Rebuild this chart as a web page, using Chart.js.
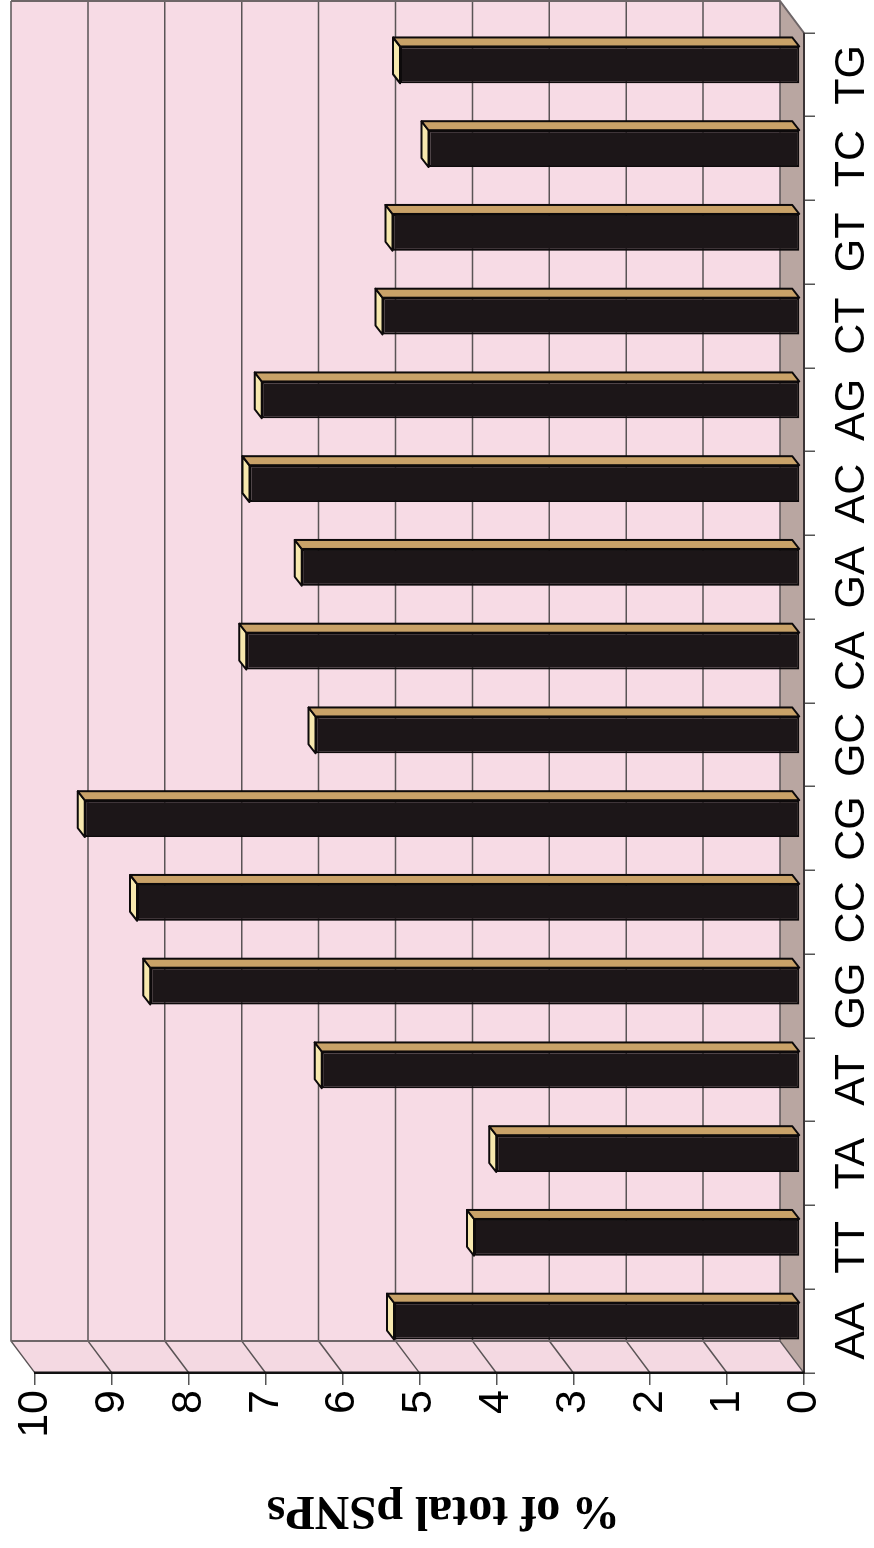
<!DOCTYPE html>
<html>
<head>
<meta charset="utf-8">
<script src="https://cdn.jsdelivr.net/npm/chart.js@4/dist/chart.umd.min.js"></script>
<style>
  html, body { margin: 0; padding: 0; background: #fff; overflow: hidden; }
  /* the chart is laid out landscape and turned a quarter turn counter-clockwise */
  #wrap {
    position: absolute; left: 0; top: 0;
    width: 1548px; height: 874px;
    transform-origin: 0 0;
    transform: translate(0, 1548px) rotate(-90deg);
  }
</style>
</head>
<body>
<div id="wrap"><canvas id="c" width="1548" height="874"></canvas></div>
<script>
// dinucleotide categories and their share of all pSNPs (%)
const categories = ['AA', 'TT', 'TA', 'AT', 'GG', 'CC', 'CG', 'GC', 'CA', 'GA', 'AC', 'AG', 'CT', 'GT', 'TC', 'TG'];
const pctOfTotal = [5.28, 4.24, 3.95, 6.22, 8.45, 8.62, 9.3, 6.3, 7.2, 6.48, 7.16, 7.0, 5.43, 5.3, 4.83, 5.2];
const valueTicks = [0, 1, 2, 3, 4, 5, 6, 7, 8, 9, 10];
const axisTitle = '% of total pSNPs';

// 3-D look: offset of the back wall, of the bar front plane, and bar depth
const WALL = { dx: 32, dy: -24 };
const BAR_FRONT = { dx: 10, dy: -4 };
const BAR_DEPTH = { dx: 9, dy: -7 };

function poly(ctx, pts, fill, stroke, lw) {
  ctx.beginPath();
  ctx.moveTo(pts[0][0], pts[0][1]);
  for (let i = 1; i < pts.length; i++) ctx.lineTo(pts[i][0], pts[i][1]);
  ctx.closePath();
  if (fill) { ctx.fillStyle = fill; ctx.fill(); }
  if (stroke) { ctx.strokeStyle = stroke; ctx.lineWidth = lw || 1; ctx.stroke(); }
}

const walls3d = {
  id: 'walls3d',
  beforeDraw(chart) {
    const { ctx, chartArea: a, scales: { y } } = chart;
    const L = a.left, R = a.right, T = a.top, B = a.bottom;
    const dx = WALL.dx, dy = WALL.dy;
    ctx.save();
    // back wall
    poly(ctx, [[L + dx, T + dy], [R + dx, T + dy], [R + dx, B + dy], [L + dx, B + dy]], '#f7dbe5');
    // side wall
    poly(ctx, [[L, T], [L + dx, T + dy], [L + dx, B + dy], [L, B]], '#f4d9e2');
    // floor
    poly(ctx, [[L, B], [R, B], [R + dx, B + dy], [L + dx, B + dy]], '#b9a6a1');
    // gridlines on side and back walls
    ctx.strokeStyle = '#5a5456';
    ctx.lineWidth = 1.5;
    valueTicks.forEach(v => {
      const py = y.getPixelForValue(v);
      ctx.beginPath();
      ctx.moveTo(L, py);
      ctx.lineTo(L + dx, py + dy);
      ctx.lineTo(R + dx, py + dy);
      ctx.stroke();
    });
    // wall edges
    ctx.strokeStyle = '#6e6668';
    ctx.lineWidth = 2;
    ctx.beginPath();
    ctx.moveTo(L + dx, B + dy); ctx.lineTo(L + dx, T + dy);
    ctx.moveTo(R + dx, T + dy); ctx.lineTo(R + dx, B + dy); ctx.lineTo(R, B);
    ctx.stroke();
    ctx.restore();
  },
  beforeDatasetsDraw(chart) {
    chart.ctx.save();
    chart.ctx.translate(BAR_FRONT.dx, BAR_FRONT.dy);
  },
  afterDatasetsDraw(chart) {
    const ctx = chart.ctx;
    const dx = BAR_DEPTH.dx, dy = BAR_DEPTH.dy;
    chart.getDatasetMeta(0).data.forEach(bar => {
      const { x, y, base, width } = bar.getProps(['x', 'y', 'base', 'width'], true);
      const l = x - width / 2, r = x + width / 2;
      ctx.lineJoin = 'round';
      // end cap
      poly(ctx, [[l, y], [r, y], [r + dx, y + dy], [l + dx, y + dy]], '#f7e8ae', '#0d0a0b', 2);
      // side face
      poly(ctx, [[r, y], [r + dx, y + dy], [r + dx, base + dy], [r, base]], '#c9a268', '#0d0a0b', 2);
    });
    ctx.restore();
  },
  afterDraw(chart) {
    // value-axis title, centred on the whole 3-D plot block
    const { ctx, chartArea: a } = chart;
    const cy = (a.top + a.bottom + WALL.dy) / 2 + 36;
    ctx.save();
    ctx.translate(51, cy);
    ctx.rotate(-Math.PI / 2);
    ctx.font = 'bold 48px "Liberation Serif", "Times New Roman", serif';
    ctx.fillStyle = '#000';
    ctx.textAlign = 'center';
    ctx.textBaseline = 'alphabetic';
    ctx.fillText(axisTitle, 0, 0);
    ctx.restore();
  }
};

new Chart(document.getElementById('c'), {
  type: 'bar',
  data: {
    labels: categories,
    datasets: [{
      data: pctOfTotal,
      backgroundColor: '#1c1618',
      borderColor: '#0d0a0b',
      borderWidth: 2,
      borderSkipped: false,
      barPercentage: 0.44,
      categoryPercentage: 1,
      clip: false
    }]
  },
  options: {
    responsive: false,
    animation: false,
    devicePixelRatio: 1,
    layout: { padding: { left: 0, right: 33, top: 35, bottom: 0 } },
    plugins: { legend: { display: false }, tooltip: { enabled: false } },
    scales: {
      x: {
        grid: { offset: true, drawOnChartArea: false, drawTicks: true, tickLength: 11, color: '#555', lineWidth: 1.5 },
        border: { display: true, color: '#3a3436', width: 2 },
        ticks: { color: '#000', padding: 11, maxRotation: 0, autoSkip: false,
                 font: { family: '"Liberation Sans", Arial, sans-serif', size: 43 } },
        afterFit(s) { s.height = 70; }
      },
      y: {
        min: 0, max: 10,
        afterBuildTicks(s) { s.ticks = valueTicks.map(v => ({ value: v })); },
        grid: { drawOnChartArea: false, drawTicks: true, tickLength: 12, color: '#555', lineWidth: 1.5 },
        border: { display: true, color: '#111', width: 2.5 },
        ticks: { color: '#000', padding: 5,
                 font: { family: '"Liberation Sans", Arial, sans-serif', size: 43 } },
        afterFit(s) { s.width = 175; }
      }
    }
  },
  plugins: [walls3d]
});
</script>
</body>
</html>
